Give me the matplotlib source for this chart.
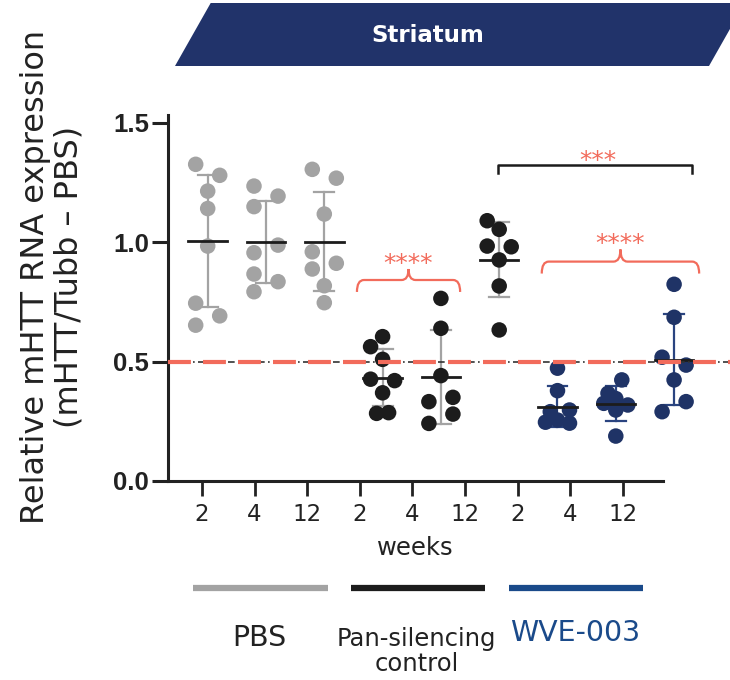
import numpy as np
import matplotlib.pyplot as plt
from matplotlib.path import Path
from matplotlib.patches import PathPatch, Polygon

# values (relative mHTT RNA expression)
weeks = ['2', '4', '12']
treatments = ['PBS', 'Pan-silencing\ncontrol', 'WVE-003']

pbs_2 = [1.325, 1.279, 1.213, 1.140, 0.983, 0.744, 0.691, 0.652]
pbs_4 = [1.234, 1.192, 1.148, 0.987, 0.955, 0.866, 0.834, 0.792]
pbs_12 = [1.304, 1.267, 1.117, 0.959, 0.911, 0.887, 0.817, 0.746]
pan_2 = [0.604, 0.562, 0.509, 0.426, 0.420, 0.369, 0.283, 0.286]
pan_4 = [0.764, 0.639, 0.441, 0.332, 0.350, 0.280, 0.241]
pan_12 = [1.089, 1.053, 0.983, 0.980, 0.925, 0.816, 0.632]
wve_2 = [0.472, 0.378, 0.290, 0.297, 0.246, 0.255, 0.242]
wve_4 = [0.423, 0.367, 0.345, 0.325, 0.318, 0.297, 0.188]
wve_12 = [0.823, 0.685, 0.518, 0.485, 0.423, 0.332, 0.290]

# which column of the swarm each point sits in (-1 left, 0 middle, 1 right)
pbs_2_col = [-1, 1, 0, 0, 0, -1, 1, -1]
pbs_4_col = [-1, 1, -1, 1, -1, -1, 1, -1]
pbs_12_col = [-1, 1, 0, -1, 1, -1, 0, 0]
pan_2_col = [0, -1, 0, -1, 1, 0, -0.5, 0.5]
pan_4_col = [0, 0, 0, -1, 1, 1, -1]
pan_12_col = [-1, 0, -1, 1, 0, 0, 0]
wve_2_col = [0, 0, -0.6, 1, -1, 0, 1]
wve_4_col = [0.5, -0.65, 0, -1, 1, 0, 0]
wve_12_col = [0, 0, -1, 1, 0, 1, -1]

groups = [pbs_2, pbs_4, pbs_12, pan_2, pan_4, pan_12, wve_2, wve_4, wve_12]
cols = [pbs_2_col, pbs_4_col, pbs_12_col, pan_2_col, pan_4_col, pan_12_col,
        wve_2_col, wve_4_col, wve_12_col]

gray = '#a3a3a3'
black = '#1c1c1c'
navy = '#1f3366'
blue = '#1a4a8a'
red = '#f26b5b'
dot_colors = [gray] * 3 + [black] * 3 + [navy] * 3
bar_colors = [gray] * 3 + [gray] * 3 + ['#2a4480'] * 3
line_colors = [gray, black, blue]
label_colors = ['#222222', '#222222', blue]

fig = plt.figure(figsize=(7.3, 6.8), dpi=100)
ax = fig.add_axes([168 / 730, 1 - 481 / 680, 562 / 730, 382.4 / 680])
ax.set_xlim(-0.681, 8.959)
ax.set_ylim(0, 1.6)

step = 0.206
for i, (vals, col) in enumerate(zip(groups, cols)):
    vals = np.array(vals)
    xs = i + np.array(col) * step
    m = vals.mean()
    sd = vals.std(ddof=1)
    ax.plot([i, i], [m - sd, m + sd], color=bar_colors[i], lw=1.6, zorder=2)
    for y in (m - sd, m + sd):
        ax.plot([i - 0.17, i + 0.17], [y, y], color=bar_colors[i], lw=1.6, zorder=2)
    ax.scatter(xs, vals, s=125, color=dot_colors[i], edgecolors='none', zorder=3)
    ax.plot([i - 0.33, i + 0.33], [m, m], color=black, lw=2, zorder=4)

# 50% reference line
ax.axhline(0.5, color='#333333', lw=1.2, dashes=(4, 2, 1, 2), zorder=5)
ax.axhline(0.5, color=red, lw=3, dashes=(5.5, 2.9), zorder=6)


def brace(x0, x1, y, drop, notch, color):
    xm = (x0 + x1) / 2
    rx = 0.12
    verts = [(x0, y - drop), (x0, y), (x0 + rx, y), (xm - rx, y), (xm, y),
             (xm, y + notch), (xm, y), (xm + rx, y), (x1 - rx, y), (x1, y),
             (x1, y - drop)]
    codes = [Path.MOVETO, Path.CURVE3, Path.CURVE3, Path.LINETO, Path.CURVE3,
             Path.CURVE3, Path.CURVE3, Path.CURVE3, Path.LINETO, Path.CURVE3,
             Path.CURVE3]
    ax.add_patch(PathPatch(Path(verts, codes), fill=False, edgecolor=color,
                           lw=1.6, clip_on=False, zorder=6))


brace(2.56, 4.33, 0.841, 0.05, 0.046, red)
ax.text(3.44, 0.91, '****', color=red, fontsize=18, ha='center', va='center')
brace(5.73, 8.43, 0.918, 0.05, 0.051, red)
ax.text(7.07, 0.99, '****', color=red, fontsize=18, ha='center', va='center')

ax.plot([4.98, 4.98, 8.30, 8.30], [1.287, 1.322, 1.322, 1.287], color=black,
        lw=1.8, clip_on=False, zorder=6)
ax.text(6.69, 1.34, '***', color=red, fontsize=18, ha='center', va='center')

# axes styling
for side in ['top', 'right']:
    ax.spines[side].set_visible(False)
ax.spines['left'].set_bounds(0, 1.531)
ax.spines['bottom'].set_bounds(-0.681, 7.81)
for side in ['left', 'bottom']:
    ax.spines[side].set_linewidth(2.2)
    ax.spines[side].set_color('#222222')

ax.set_yticks([0, 0.5, 1.0, 1.5])
ax.set_yticklabels(['0.0', '0.5', '1.0', '1.5'], fontfamily='Liberation Sans',
                   fontweight='bold', fontsize=18.5, color='#222222')
ax.tick_params(axis='y', length=11.5, width=2.2, color='#222222', pad=2)

ticks = np.arange(9) * 0.902 - 0.098
ax.set_xticks(ticks)
ax.set_xticklabels(weeks * 3, fontsize=16.5, color='#222222')
ax.tick_params(axis='x', length=10.5, width=2, color='#222222', pad=5)

ax.text(3.557, -0.28, 'weeks', fontsize=17.5, color='#222222', ha='center',
        va='center', clip_on=False)

# treatment bars and names under the axis
for k in range(3):
    x0 = ticks[3 * k] - 0.15
    x1 = ticks[3 * k + 2] + 0.35
    ax.plot([x0, x1], [-0.448, -0.448], color=line_colors[k], lw=4.5,
            solid_capstyle='butt', clip_on=False)
ax.text(0.881, -0.657, treatments[0], fontsize=20.5, color=label_colors[0],
        ha='center', va='center')
ax.text(3.585, -0.713, treatments[1], fontsize=17.5, color=label_colors[1],
        ha='center', va='center', linespacing=1.05)
ax.text(6.30, -0.636, treatments[2], fontsize=20.5, color=label_colors[2],
        ha='center', va='center')

fig.text(52 / 730, 1 - 277 / 680,
         'Relative mHTT RNA expression\n(mHTT/Tubb \u2013 PBS)',
         rotation=90, fontsize=23, ha='center', va='center',
         multialignment='center', linespacing=1.1, color='#222222')

# title banner
banner = [(175, 66), (210.7, 3), (744.7, 3), (709, 66)]
banner = [(x / 730, 1 - y / 680) for x, y in banner]
fig.patches.append(Polygon(banner, closed=True, facecolor='#21336a',
                           edgecolor='none', transform=fig.transFigure,
                           figure=fig))
fig.text(428 / 730, 1 - 35 / 680, 'Striatum', color='white', fontsize=16.5,
         fontweight='bold', ha='center', va='center')

plt.savefig('out.png', dpi=100)
